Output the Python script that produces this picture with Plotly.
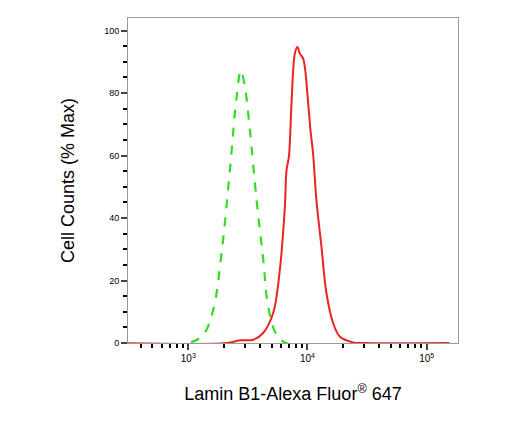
import plotly.graph_objects as go
import numpy as np

green_log = [2.42, 3.0, 3.126, 3.209, 3.279, 3.349, 3.405, 3.441, 3.475, 3.517, 3.573, 3.629, 3.670, 3.740, 3.824, 5.19]
green_val = [0, 0, 2.7, 10.6, 28.7, 55.3, 78.7, 87.2, 81.9, 68.1, 45.7, 26.6, 11.7, 2.7, 0, 0]
red_log = [2.42, 3.321, 3.433, 3.545, 3.628, 3.712, 3.768, 3.810, 3.824, 3.844, 3.866, 3.894, 3.916, 3.936, 3.964,
           4.006, 4.025, 4.047, 4.075, 4.117, 4.159, 4.215, 4.271, 4.383, 4.466, 5.19]
red_val = [0, 0, 0.85, 1.06, 3.2, 9.6, 23.4, 43.6, 55.3, 59.6, 76.6, 92.6, 94.7, 92.6, 91.0,
           76.6, 68.1, 60.6, 45.7, 30.9, 16.0, 6.4, 2.1, 0.2, 0, 0]

fig = go.Figure()
fig.add_trace(go.Scatter(x=[10**v for v in green_log], y=green_val, mode="lines",
                         line=dict(color="#33dd22", width=2.2, dash="dash"), line_shape="spline"))
fig.add_trace(go.Scatter(x=[10**v for v in red_log], y=red_val, mode="lines",
                         line=dict(color="#ee2222", width=2), line_shape="spline"))

fig.update_layout(
    width=518, height=421, showlegend=False, plot_bgcolor="white", paper_bgcolor="white",
    margin=dict(l=120, r=68, t=10, b=86),
    font=dict(family="Liberation Sans, Arial", color="black"),
    xaxis=dict(type="log", range=[2.494, 5.263], tickvals=[1e3, 1e4, 1e5], automargin=False,
               ticktext=["10<sup>3</sup>", "10<sup>4</sup>", "10<sup>5</sup>"],
               ticks="outside", ticklen=6, tickwidth=1.5, tickfont=dict(size=10),
               minor=dict(tickvals=[m * 10**d for d in (2, 3, 4, 5) for m in range(2, 10)],
                          ticks="outside", ticklen=4, tickcolor="black"),
               showgrid=False, zeroline=False, showline=True, linecolor="#999999", mirror=True,
               title=dict(text="Lamin B1-Alexa Fluor<sup>®</sup> 647", font=dict(size=18), standoff=24)),
    yaxis=dict(range=[0, 104], tickvals=[0, 20, 40, 60, 80, 100], ticks="outside", ticklen=6,
               tickwidth=1.5, tickfont=dict(size=9), automargin=False,
               minor=dict(dtick=5, ticks="outside", ticklen=4, tickcolor="black"),
               showgrid=False, zeroline=False, showline=True, linecolor="#999999", mirror=True,
               title=dict(text="Cell Counts (% Max)", font=dict(size=18), standoff=24)),
)
fig.write_html("out.html")
